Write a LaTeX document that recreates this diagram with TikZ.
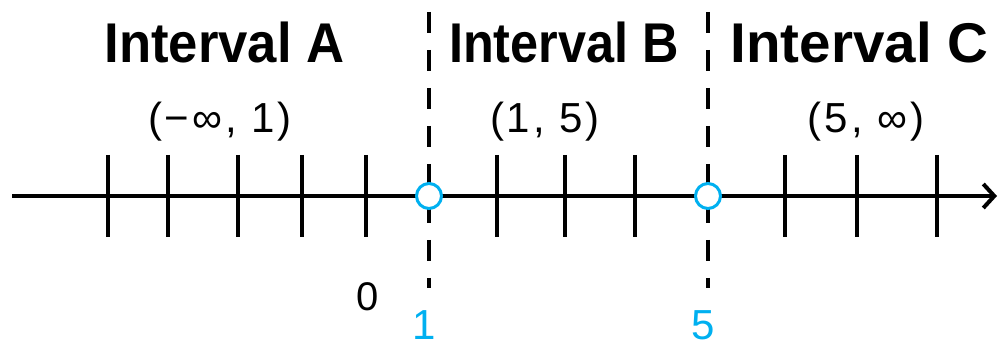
\documentclass[tikz,border=0pt]{standalone}
\usepackage{fontspec}
\setmainfont{Liberation Sans}
\usetikzlibrary{arrows.meta}
\definecolor{cyanpt}{HTML}{00B0F0}
\tikzset{
  axisline/.style={line width=4.5pt, -{Straight Barb[length=11pt,width=24pt,line width=4pt]}},
  tickline/.style={line width=4.5pt},
  divline/.style={line width=4pt, dash pattern=on 21.5pt off 16.5pt},
  opendot/.style={circle, draw=cyanpt, fill=white, line width=3pt, minimum size=25pt, inner sep=0pt},
  title/.style={font=\fontsize{56}{60}\selectfont\bfseries, anchor=base, inner sep=0pt},
  sub/.style={font=\fontsize{42}{46}\selectfont\addfontfeature{LetterSpace=7}, anchor=base, inner sep=0pt},
  num/.style={font=\fontsize{40}{44}\selectfont, anchor=base, inner sep=0pt},
  bignum/.style={font=\fontsize{42}{46}\selectfont, anchor=base, inner sep=0pt, text=cyanpt}
}
\begin{document}
\begin{tikzpicture}[x=1pt,y=-1pt]
\useasboundingbox (0,0) rectangle (998,347);
\coordinate (L) at (12,196);
\coordinate (R) at (997,196);
\draw[axisline] (L) -- (R);
\foreach \x [count=\i] in {108,168,238,302,366,497,565,635,785,857,937}{
  \coordinate (t\i a) at (\x,155);
  \coordinate (t\i b) at (\x,237);
  \draw[tickline] (t\i a) -- (t\i b);
}
\coordinate (d1t) at (429,12);
\coordinate (d1b) at (429,288);
\coordinate (d5t) at (708,12);
\coordinate (d5b) at (708,288);
\draw[divline] (d1t) -- (d1b);
\draw[divline] (d5t) -- (d5b);
\node[opendot] (p1) at (429,196) {};
\node[opendot] (p5) at (708,196) {};
\node[title] (ta) at (224.5,63) {\scalebox{0.94}[1]{Interval A}};
\node[title] (tb) at (564,63) {\scalebox{0.90}[1]{Interval B}};
\node[title] (tc) at (859.5,63) {\scalebox{1.01}[1]{Interval C}};
\node[sub] (sa) at (220,133) {(−∞, 1)};
\node[sub] (sb) at (545,133) {(1, 5)};
\node[sub] (sc) at (866,133) {(5, ∞)};
\node[num] (n0) at (367.5,310) {0};
\node[bignum] (n1) at (424,339) {1};
\node[bignum] (n5) at (703.5,339) {5};
\end{tikzpicture}
\end{document}
